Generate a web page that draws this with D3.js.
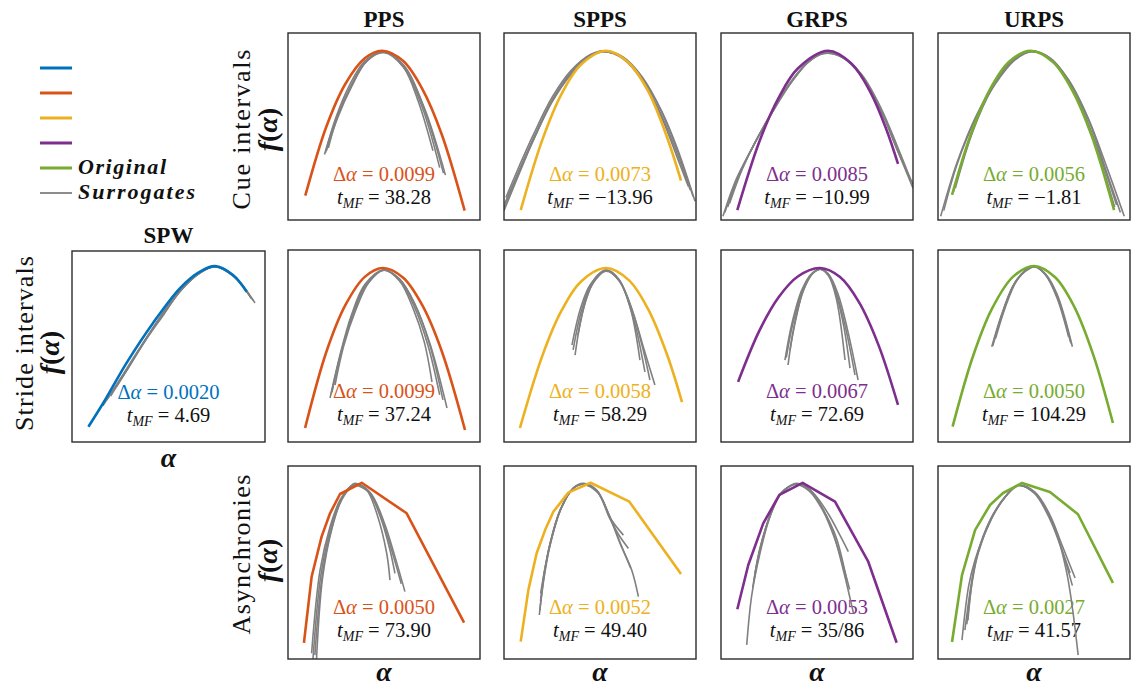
<!DOCTYPE html>
<html>
<head>
<meta charset="utf-8">
<script src="https://cdn.jsdelivr.net/npm/d3@7/dist/d3.min.js"></script>
<style>
  html, body { margin: 0; padding: 0; background: #ffffff; }
  svg text { font-family: "Liberation Serif", "DejaVu Serif", serif; }
</style>
</head>
<body>
<svg id="chart" width="1134" height="686" font-family="Liberation Serif, DejaVu Serif, serif"></svg>
<script>
const SERIF = "'Liberation Serif', 'DejaVu Serif', serif";

// ---------- labels ----------
const paradigms = ["PPS", "SPPS", "GRPS", "URPS"];
const rowLabels = ["Cue intervals", "Stride intervals", "Asynchronies"];
const legendNames = ["", "", "", "", "Original", "Surrogates"];

// ---------- colours ----------
const colorSPW = "#0072BD";
const paradigmColors = ["#D95319", "#EDB120", "#7E2F8E", "#77AC30"];
const surrogateColor = "#808080";

// ---------- annotation values ----------
const cueDelta = ["0.0099", "0.0073", "0.0085", "0.0056"];
const cueT = ["38.28", "\u221213.96", "\u221210.99", "\u22121.81"];
const strideDelta = ["0.0099", "0.0058", "0.0067", "0.0050"];
const strideT = ["37.24", "58.29", "72.69", "104.29"];
const asyncDelta = ["0.0050", "0.0052", "0.0053", "0.0027"];
const asyncT = ["73.90", "49.40", "35/86", "41.57"];
const spwDelta = "0.0020";
const spwT = "4.69";

// ---------- multifractal spectra, [alpha, f(alpha)] in normalised units ----------
// Cue intervals
const cuePPS = [[0.09,0.13],[0.2,0.50],[0.3,0.73],[0.4,0.865],[0.49,0.905],[0.6,0.85],[0.7,0.70],[0.8,0.46],[0.92,0.05]];
const cuePPSSurr = [
  [[0.19,0.35],[0.25,0.55],[0.32,0.72],[0.4,0.85],[0.495,0.90],[0.6,0.83],[0.7,0.62],[0.81,0.25]],
  [[0.21,0.385],[0.26,0.56],[0.33,0.72],[0.41,0.85],[0.5,0.90],[0.6,0.82],[0.68,0.63],[0.755,0.37]],
  [[0.2,0.37],[0.26,0.55],[0.33,0.71],[0.41,0.85],[0.5,0.895],[0.6,0.82],[0.7,0.60],[0.79,0.28]],
  [[0.195,0.36],[0.25,0.54],[0.32,0.70],[0.4,0.84],[0.49,0.90],[0.6,0.83],[0.71,0.60],[0.82,0.24]]
];
const cueSPPS = [[0.087,0.053],[0.2,0.43],[0.3,0.675],[0.4,0.83],[0.531,0.905],[0.65,0.84],[0.75,0.69],[0.85,0.44],[0.922,0.21]];
const cueSPPSSurr = [
  [[0.0,0.05],[0.08,0.25],[0.15,0.42],[0.25,0.63],[0.35,0.78],[0.45,0.875],[0.52,0.9],[0.62,0.865],[0.72,0.75],[0.82,0.56],[0.9,0.36],[0.97,0.16]],
  [[0.005,0.09],[0.08,0.27],[0.15,0.43],[0.25,0.64],[0.35,0.79],[0.45,0.88],[0.52,0.903],[0.62,0.87],[0.72,0.76],[0.82,0.58],[0.9,0.38],[0.985,0.125]],
  [[0.01,0.12],[0.08,0.29],[0.15,0.45],[0.25,0.655],[0.35,0.80],[0.45,0.885],[0.52,0.905],[0.62,0.872],[0.72,0.765],[0.82,0.585],[0.9,0.39],[0.995,0.10]],
  [[0.0,0.07],[0.08,0.26],[0.15,0.42],[0.25,0.635],[0.35,0.785],[0.45,0.878],[0.52,0.9],[0.62,0.862],[0.72,0.745],[0.82,0.55],[0.9,0.34],[0.96,0.18]]
];
const cueGRPS = [[0.085,0.053],[0.2,0.42],[0.3,0.653],[0.4,0.81],[0.557,0.905],[0.68,0.836],[0.78,0.68],[0.86,0.488],[0.922,0.30]];
const cueGRPSSurr = [
  [[0.01,0.02],[0.08,0.22],[0.16,0.38],[0.25,0.55],[0.35,0.72],[0.45,0.84],[0.535,0.89],[0.63,0.87],[0.73,0.77],[0.83,0.59],[0.92,0.37],[1.0,0.17]],
  [[0.035,0.07],[0.1,0.25],[0.17,0.40],[0.26,0.565],[0.36,0.73],[0.46,0.85],[0.54,0.893],[0.635,0.872],[0.735,0.775],[0.835,0.595],[0.92,0.39],[0.99,0.21]],
  [[0.02,0.04],[0.09,0.235],[0.165,0.39],[0.255,0.56],[0.355,0.725],[0.455,0.845],[0.537,0.89],[0.632,0.87],[0.732,0.772],[0.832,0.59],[0.92,0.38],[0.975,0.24]],
  [[0.045,0.09],[0.11,0.27],[0.18,0.42],[0.27,0.58],[0.37,0.74],[0.465,0.855],[0.54,0.895],[0.635,0.87],[0.735,0.77],[0.835,0.585],[0.92,0.37],[1.0,0.19]]
];
const cueURPS = [[0.073,0.134],[0.17,0.455],[0.27,0.697],[0.37,0.846],[0.483,0.905],[0.6,0.843],[0.7,0.692],[0.8,0.451],[0.917,0.053]];
const cueURPSSurr = [
  [[0.014,0.02],[0.1,0.31],[0.2,0.56],[0.3,0.74],[0.4,0.86],[0.483,0.905],[0.58,0.87],[0.68,0.75],[0.78,0.55],[0.88,0.28],[0.97,0.02]],
  [[0.03,0.05],[0.1,0.30],[0.2,0.55],[0.3,0.73],[0.4,0.855],[0.49,0.9],[0.59,0.86],[0.69,0.73],[0.79,0.52],[0.88,0.25],[0.95,0.04]],
  [[0.08,0.15],[0.17,0.45],[0.27,0.69],[0.37,0.84],[0.485,0.903],[0.6,0.85],[0.7,0.70],[0.8,0.46],[0.92,0.07]],
  [[0.09,0.17],[0.18,0.47],[0.28,0.70],[0.38,0.845],[0.487,0.9],[0.6,0.848],[0.7,0.705],[0.8,0.47],[0.93,0.08]]
];

// Stride intervals
const strideSPW = [[0.085,0.08],[0.162,0.204],[0.283,0.414],[0.42,0.623],[0.56,0.806],[0.663,0.892],[0.741,0.921],[0.834,0.874],[0.905,0.787]];
const strideSPWSurr = [
  [[0.16,0.19],[0.25,0.33],[0.35,0.49],[0.45,0.64],[0.56,0.79],[0.663,0.885],[0.741,0.918],[0.834,0.872],[0.948,0.728]],
  [[0.2,0.24],[0.28,0.37],[0.38,0.53],[0.47,0.66],[0.56,0.79],[0.66,0.885],[0.74,0.918],[0.84,0.865],[0.93,0.75]],
  [[0.23,0.29],[0.3,0.40],[0.39,0.55],[0.48,0.68],[0.57,0.80],[0.66,0.885],[0.745,0.918],[0.84,0.866],[0.94,0.74]],
  [[0.18,0.22],[0.27,0.36],[0.37,0.52],[0.46,0.66],[0.56,0.80],[0.67,0.89],[0.745,0.92],[0.84,0.87],[0.92,0.77]]
];
const stridePPS = [[0.089,0.073],[0.2,0.47],[0.3,0.715],[0.4,0.86],[0.495,0.906],[0.6,0.855],[0.7,0.711],[0.8,0.475],[0.922,0.0625]];
const stridePPSSurr = [
  [[0.219,0.229],[0.27,0.45],[0.33,0.66],[0.4,0.82],[0.495,0.896],[0.58,0.85],[0.66,0.72],[0.74,0.51],[0.828,0.177]],
  [[0.245,0.297],[0.29,0.50],[0.35,0.68],[0.42,0.83],[0.5,0.895],[0.58,0.84],[0.65,0.70],[0.71,0.52],[0.75,0.3125]],
  [[0.229,0.26],[0.28,0.48],[0.34,0.67],[0.41,0.82],[0.5,0.896],[0.58,0.845],[0.66,0.70],[0.73,0.50],[0.79,0.245]],
  [[0.225,0.25],[0.275,0.46],[0.335,0.66],[0.405,0.82],[0.497,0.896],[0.58,0.85],[0.66,0.72],[0.74,0.50],[0.807,0.219]]
];
const strideSPPS = [[0.083,0.073],[0.2,0.45],[0.3,0.685],[0.4,0.835],[0.531,0.906],[0.65,0.843],[0.75,0.693],[0.85,0.453],[0.927,0.208]];
const strideSPPSSurr = [
  [[0.354,0.505],[0.4,0.70],[0.45,0.82],[0.531,0.895],[0.6,0.843],[0.66,0.71],[0.72,0.50],[0.76,0.323]],
  [[0.385,0.557],[0.43,0.75],[0.48,0.86],[0.535,0.895],[0.6,0.845],[0.66,0.69],[0.708,0.427]],
  [[0.37,0.453],[0.41,0.68],[0.46,0.82],[0.53,0.89],[0.6,0.84],[0.67,0.66],[0.734,0.365]],
  [[0.36,0.48],[0.405,0.69],[0.455,0.82],[0.53,0.893],[0.6,0.84],[0.67,0.68],[0.73,0.48],[0.786,0.297]]
];
const strideGRPS = [[0.089,0.313],[0.2,0.58],[0.3,0.754],[0.4,0.862],[0.516,0.906],[0.62,0.859],[0.72,0.726],[0.82,0.506],[0.922,0.193]];
const strideGRPSSurr = [
  [[0.333,0.427],[0.37,0.62],[0.42,0.79],[0.47,0.875],[0.516,0.9],[0.56,0.87],[0.6,0.78],[0.65,0.59],[0.698,0.349]],
  [[0.359,0.479],[0.39,0.64],[0.43,0.79],[0.48,0.88],[0.52,0.9],[0.56,0.87],[0.6,0.77],[0.64,0.6],[0.672,0.385]],
  [[0.349,0.401],[0.38,0.6],[0.425,0.78],[0.475,0.875],[0.518,0.9],[0.56,0.875],[0.61,0.77],[0.66,0.58],[0.714,0.323]],
  [[0.34,0.44],[0.375,0.62],[0.425,0.79],[0.475,0.877],[0.52,0.9],[0.56,0.865],[0.6,0.75],[0.646,0.427]]
];
const strideURPS = [[0.076,0.08],[0.18,0.44],[0.28,0.692],[0.39,0.86],[0.5,0.917],[0.61,0.858],[0.71,0.704],[0.81,0.45],[0.911,0.099]];
const strideURPSSurr = [
  [[0.28,0.496],[0.33,0.66],[0.39,0.81],[0.45,0.89],[0.5,0.915],[0.56,0.875],[0.62,0.77],[0.7,0.496]],
  [[0.29,0.52],[0.34,0.68],[0.4,0.83],[0.46,0.895],[0.505,0.913],[0.56,0.87],[0.62,0.75],[0.68,0.548]],
  [[0.285,0.50],[0.33,0.655],[0.39,0.81],[0.45,0.89],[0.5,0.914],[0.56,0.872],[0.62,0.76],[0.69,0.52]],
  [[0.3,0.54],[0.35,0.70],[0.41,0.84],[0.47,0.9],[0.51,0.912],[0.57,0.86],[0.63,0.73],[0.695,0.51]]
];

// Asynchronies
const asyncPPS = [[0.083,0.084],[0.123,0.426],[0.175,0.634],[0.219,0.755],[0.271,0.855],[0.384,0.913],[0.618,0.755],[0.917,0.188]];
const asyncPPSSurr = [
  [[0.123,0.03],[0.167,0.46],[0.219,0.685],[0.271,0.824],[0.323,0.893],[0.349,0.91],[0.41,0.876],[0.462,0.755],[0.514,0.548],[0.531,0.409]],
  [[0.146,-0.05],[0.18,0.42],[0.23,0.68],[0.28,0.83],[0.33,0.895],[0.36,0.905],[0.42,0.87],[0.48,0.74],[0.53,0.57],[0.557,0.444]],
  [[0.13,0.0],[0.172,0.44],[0.225,0.685],[0.276,0.826],[0.327,0.893],[0.355,0.908],[0.43,0.86],[0.5,0.71],[0.56,0.52],[0.609,0.349]],
  [[0.14,0.02],[0.178,0.43],[0.228,0.68],[0.28,0.825],[0.33,0.89],[0.35,0.9],[0.42,0.865],[0.49,0.72],[0.55,0.53],[0.59,0.39]]
];
const asyncSPPS = [[0.087,0.09],[0.127,0.358],[0.17,0.548],[0.214,0.668],[0.257,0.763],[0.335,0.862],[0.451,0.913],[0.653,0.815],[0.922,0.44]];
const asyncSPPSSurr = [
  [[0.184,0.228],[0.21,0.44],[0.24,0.6],[0.292,0.772],[0.361,0.885],[0.413,0.91],[0.482,0.876],[0.55,0.737],[0.604,0.6],[0.665,0.461],[0.7,0.323]],
  [[0.191,0.34],[0.215,0.48],[0.245,0.61],[0.295,0.775],[0.36,0.885],[0.41,0.905],[0.49,0.86],[0.56,0.72],[0.622,0.642]],
  [[0.19,0.30],[0.212,0.46],[0.243,0.61],[0.295,0.775],[0.362,0.886],[0.415,0.908],[0.485,0.87],[0.55,0.73],[0.6,0.64],[0.648,0.573]],
  [[0.186,0.25],[0.21,0.43],[0.242,0.6],[0.293,0.77],[0.36,0.883],[0.41,0.905],[0.48,0.875],[0.55,0.74],[0.61,0.59],[0.66,0.47]]
];
const asyncGRPS = [[0.085,0.258],[0.142,0.487],[0.22,0.703],[0.304,0.85],[0.425,0.913],[0.594,0.815],[0.767,0.504],[0.915,0.084]];
const asyncGRPSSurr = [
  [[0.134,0.073],[0.16,0.33],[0.203,0.548],[0.255,0.737],[0.307,0.85],[0.359,0.896],[0.394,0.91],[0.464,0.876],[0.533,0.772],[0.585,0.651],[0.637,0.461],[0.69,0.237]],
  [[0.177,0.444],[0.205,0.58],[0.255,0.74],[0.31,0.855],[0.36,0.898],[0.395,0.908],[0.47,0.87],[0.54,0.76],[0.6,0.63],[0.655,0.409]],
  [[0.17,0.40],[0.2,0.56],[0.25,0.73],[0.305,0.85],[0.36,0.897],[0.4,0.905],[0.48,0.86],[0.56,0.75],[0.62,0.64],[0.663,0.556]],
  [[0.165,0.37],[0.2,0.55],[0.25,0.73],[0.305,0.848],[0.36,0.895],[0.39,0.905],[0.46,0.87],[0.53,0.77],[0.59,0.63],[0.64,0.47],[0.67,0.36]]
];
const asyncURPS = [[0.073,0.088],[0.125,0.435],[0.193,0.668],[0.271,0.798],[0.339,0.86],[0.438,0.912],[0.583,0.865],[0.729,0.75],[0.911,0.394]];
const asyncURPSSurr = [
  [[0.125,0.098],[0.16,0.38],[0.193,0.513],[0.271,0.72],[0.349,0.839],[0.417,0.9],[0.505,0.865],[0.583,0.746],[0.646,0.59],[0.714,0.42]],
  [[0.156,0.2],[0.18,0.42],[0.21,0.56],[0.28,0.73],[0.35,0.84],[0.415,0.9],[0.5,0.86],[0.58,0.73],[0.64,0.58],[0.688,0.446]],
  [[0.14,0.15],[0.175,0.40],[0.205,0.54],[0.275,0.725],[0.35,0.84],[0.42,0.898],[0.51,0.855],[0.6,0.7],[0.67,0.45],[0.73,0.02]],
  [[0.15,0.18],[0.18,0.41],[0.21,0.55],[0.28,0.73],[0.352,0.842],[0.418,0.9],[0.505,0.86],[0.59,0.72],[0.65,0.55],[0.70,0.38]]
];

// ---------- layout ----------
const colX = [288, 504, 721, 938];
const panelW = 192;
const rowY = [33, 250, 466];
const rowH = [187, 192, 193];
const spwBox = { x: 72, y: 251, w: 193, h: 191 };

const panels = [];
const rowData = [
  { orig: [cuePPS, cueSPPS, cueGRPS, cueURPS], surr: [cuePPSSurr, cueSPPSSurr, cueGRPSSurr, cueURPSSurr], d: cueDelta, t: cueT, linear: false },
  { orig: [stridePPS, strideSPPS, strideGRPS, strideURPS], surr: [stridePPSSurr, strideSPPSSurr, strideGRPSSurr, strideURPSSurr], d: strideDelta, t: strideT, linear: false },
  { orig: [asyncPPS, asyncSPPS, asyncGRPS, asyncURPS], surr: [asyncPPSSurr, asyncSPPSSurr, asyncGRPSSurr, asyncURPSSurr], d: asyncDelta, t: asyncT, linear: true }
];
rowData.forEach((r, ri) => {
  paradigms.forEach((p, ci) => {
    panels.push({
      id: "p" + ri + ci,
      x: colX[ci], y: rowY[ri], w: panelW, h: rowH[ri],
      color: paradigmColors[ci],
      orig: r.orig[ci], surr: r.surr[ci],
      delta: r.d[ci], t: r.t[ci], linear: r.linear
    });
  });
});
panels.push({
  id: "pspw", x: spwBox.x, y: spwBox.y, w: spwBox.w, h: spwBox.h,
  color: colorSPW, orig: strideSPW, surr: strideSPWSurr,
  delta: spwDelta, t: spwT, linear: false
});

const svg = d3.select("#chart");
const defs = svg.append("defs");

function serifText(sel) {
  return sel.append("text").style("font-family", SERIF);
}

panels.forEach(p => {
  const x = d3.scaleLinear().domain([0, 1]).range([p.x, p.x + p.w]);
  const y = d3.scaleLinear().domain([0, 1]).range([p.y + p.h, p.y]);

  defs.append("clipPath").attr("id", "clip-" + p.id)
    .append("rect").attr("x", p.x).attr("y", p.y).attr("width", p.w).attr("height", p.h);

  const g = svg.append("g");

  // annotation
  const cx = p.x + p.w / 2;
  const t1 = serifText(g).attr("x", cx).attr("y", p.y + 148)
    .attr("text-anchor", "middle").attr("font-size", 20.5).attr("fill", p.color);
  t1.append("tspan").text("\u0394");
  t1.append("tspan").attr("font-style", "italic").text("\u03b1");
  t1.append("tspan").text(" = " + p.delta);

  const t2 = serifText(g).attr("x", cx).attr("y", p.y + 171)
    .attr("text-anchor", "middle").attr("font-size", 20.5).attr("fill", "#111");
  t2.append("tspan").attr("font-style", "italic").text("t");
  t2.append("tspan").attr("font-style", "italic").attr("font-size", 14).attr("dy", 4).text("MF");
  t2.append("tspan").attr("dy", -4).text(" = " + p.t);

  const plot = g.append("g").attr("clip-path", "url(#clip-" + p.id + ")");
  const smooth = d3.line().x(d => x(d[0])).y(d => y(d[1])).curve(d3.curveCatmullRom.alpha(0.5));
  const straight = d3.line().x(d => x(d[0])).y(d => y(d[1]));

  plot.selectAll("path.surr").data(p.surr).join("path")
    .attr("class", "surr")
    .attr("d", smooth)
    .attr("fill", "none").attr("stroke", surrogateColor)
    .attr("stroke-width", 1.6).attr("stroke-linejoin", "round");

  plot.append("path").datum(p.orig)
    .attr("d", p.linear ? straight : smooth)
    .attr("fill", "none").attr("stroke", p.color)
    .attr("stroke-width", 2.6).attr("stroke-linejoin", "round");

  g.append("rect").attr("x", p.x).attr("y", p.y).attr("width", p.w).attr("height", p.h)
    .attr("fill", "none").attr("stroke", "#2b2b2b").attr("stroke-width", 1.4);
});

// column titles
paradigms.forEach((p, ci) => {
  serifText(svg).attr("x", colX[ci] + panelW / 2).attr("y", 27)
    .attr("text-anchor", "middle").attr("font-weight", "bold").attr("font-size", 23)
    .attr("fill", "#111").text(p);
});
serifText(svg).attr("x", spwBox.x + spwBox.w / 2).attr("y", 243)
  .attr("text-anchor", "middle").attr("font-weight", "bold").attr("font-size", 23)
  .attr("fill", "#111").text("SPW");

// row labels
const rowLabelPos = [
  { x: 250, fx: 277, cy: rowY[0] + rowH[0] / 2 + 3, fcy: rowY[0] + rowH[0] / 2 + 3, len: 160 },
  { x: 33, fx: 59, cy: spwBox.y + spwBox.h / 2 - 3, fcy: spwBox.y + spwBox.h / 2 + 6, len: 175 },
  { x: 250, fx: 277, cy: rowY[2] + rowH[2] / 2 - 8, fcy: rowY[2] + rowH[2] / 2 - 2, len: 160 }
];
rowLabels.forEach((lab, i) => {
  const pos = rowLabelPos[i];
  serifText(svg)
    .attr("transform", `translate(${pos.x},${pos.cy}) rotate(-90)`)
    .attr("text-anchor", "middle").attr("font-size", 26).attr("fill", "#111")
    .attr("textLength", pos.len).attr("lengthAdjust", "spacing")
    .text(lab);
  const f = serifText(svg)
    .attr("transform", `translate(${pos.fx},${pos.fcy}) rotate(-90)`)
    .attr("text-anchor", "middle").attr("font-size", 28).attr("fill", "#111");
  f.append("tspan").attr("font-style", "italic").attr("font-weight", "bold").text("f");
  f.append("tspan").attr("font-weight", "bold").text("(");
  f.append("tspan").attr("font-style", "italic").attr("font-weight", "bold").text("\u03b1");
  f.append("tspan").attr("font-weight", "bold").text(")");
});

// x-axis labels
const alphaLabels = [
  { x: spwBox.x + spwBox.w / 2, y: 467 },
  ...colX.map(cx => ({ x: cx + panelW / 2, y: 681 }))
];
alphaLabels.forEach(a => {
  serifText(svg).attr("x", a.x).attr("y", a.y).attr("text-anchor", "middle")
    .attr("font-size", 28).attr("font-weight", "bold").attr("font-style", "italic")
    .attr("fill", "#111").text("\u03b1");
});

// legend
const legendColors = [colorSPW, ...paradigmColors, surrogateColor];
const legendY = [68, 93, 118, 143, 168, 193];
const legendLen = [0, 0, 0, 0, 88, 117];
legendColors.forEach((c, i) => {
  svg.append("line").attr("x1", 40).attr("x2", 72).attr("y1", legendY[i]).attr("y2", legendY[i])
    .attr("stroke", c).attr("stroke-width", i === 5 ? 1.8 : 3);
  if (legendNames[i]) {
    serifText(svg).attr("x", 78).attr("y", legendY[i] + 6)
      .attr("font-size", 22).attr("font-weight", "bold").attr("font-style", "italic")
      .attr("fill", "#111")
      .attr("textLength", legendLen[i]).attr("lengthAdjust", "spacing")
      .text(legendNames[i]);
  }
});
</script>
</body>
</html>
